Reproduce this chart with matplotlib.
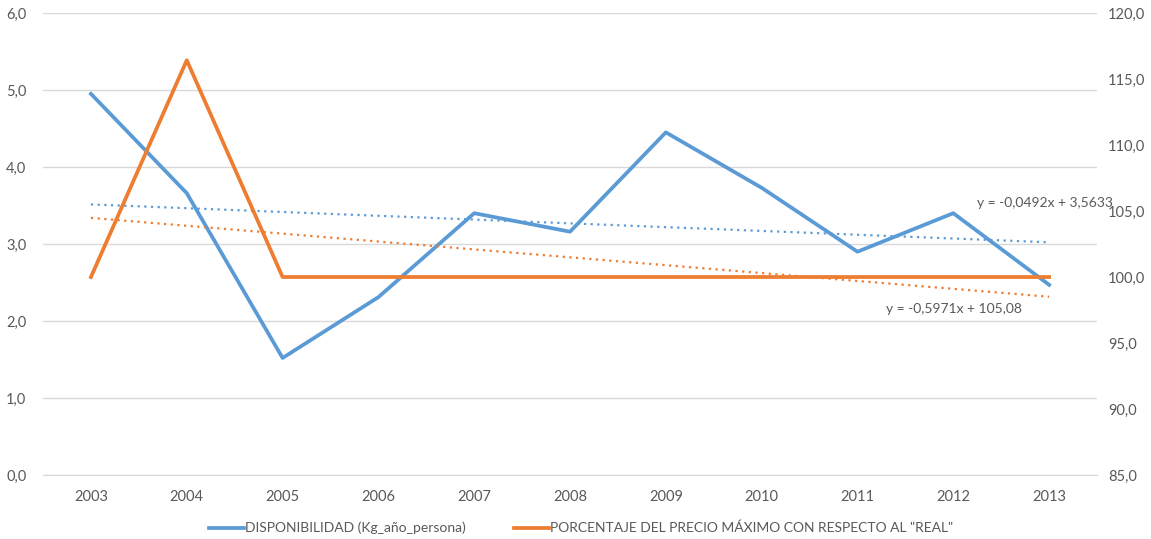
import matplotlib
matplotlib.use("Agg")
import matplotlib.pyplot as plt
from matplotlib import font_manager
import numpy as np

# data
years = ["2003", "2004", "2005", "2006", "2007", "2008", "2009", "2010", "2011", "2012", "2013"]
disponibilidad = [4.95, 3.66, 1.52, 2.31, 3.40, 3.16, 4.45, 3.73, 2.90, 3.40, 2.47]
porcentaje = [100.0, 116.42, 100.0, 100.0, 100.0, 100.0, 100.0, 100.0, 100.0, 100.0, 100.0]
label_disp = "DISPONIBILIDAD (Kg_año_persona)"
label_porc = 'PORCENTAJE DEL PRECIO MÁXIMO CON RESPECTO AL "REAL"'

names = {f.name for f in font_manager.fontManager.ttflist}
fam = [f for f in ["Liberation Sans Narrow", "Lato", "DejaVu Sans"] if f in names]
plt.rcParams["font.family"] = fam

BLUE = "#5b9bd5"
ORANGE = "#ed7d31"
GREY = "#595959"

def comma(v, nd):
    return f"{v:.{nd}f}".replace(".", ",")

fig = plt.figure(figsize=(11.51, 5.39), dpi=100)
ax = fig.add_axes([0.0374, 0.1187, 0.9157, 0.8572])
ax2 = ax.twinx()

x = np.arange(len(years))
ax.plot(x, disponibilidad, color=BLUE, lw=2.7, solid_joinstyle="round", zorder=3)
ax2.plot(x, porcentaje, color=ORANGE, lw=2.7, solid_joinstyle="round", zorder=3)

# linear trendlines (Excel style, x = 1..n)
xn = np.arange(1, len(years) + 1)
m1, b1 = np.polyfit(xn, disponibilidad, 1)
m2, b2 = np.polyfit(xn, porcentaje, 1)
ax.plot(x, m1 * xn + b1, color=BLUE, lw=1.6, ls=(0, (1, 2)), zorder=2)
ax2.plot(x, m2 * xn + b2, color=ORANGE, lw=1.6, ls=(0, (1, 2)), zorder=2)

ax.set_xlim(-0.5, len(years) - 0.5)
ax.set_ylim(0, 6)
ax2.set_ylim(85, 120)
ax.set_xticks(x)
ax.set_xticklabels(years)
ax.set_yticks(np.arange(0, 6.01, 1))
ax.set_yticklabels([comma(v, 1) for v in np.arange(0, 6.01, 1)])
ax2.set_yticks(np.arange(85, 120.1, 5))
ax2.set_yticklabels([comma(v, 1) for v in np.arange(85, 120.1, 5)])

ax.grid(axis="y", color="#d9d9d9", lw=1)
ax.set_axisbelow(True)
for a in (ax, ax2):
    for s in a.spines.values():
        s.set_visible(False)
    a.tick_params(length=0, labelsize=10.5, colors=GREY)
ax.spines["bottom"].set_visible(True)
ax.spines["bottom"].set_color("#d9d9d9")
ax.tick_params(axis="x", pad=11)
ax.tick_params(axis="y", pad=12)
ax2.tick_params(axis="y", pad=8)

ax.text(9.25, 3.53, f"y = {comma(m1, 4)}x + {comma(b1, 4)}", color=GREY, fontsize=10, va="center")
ax2.text(8.3, 97.6, f"y = {comma(m2, 4)}x + {comma(b2, 2)}", color=GREY, fontsize=10, va="center")

h1 = plt.Line2D([], [], color=BLUE, lw=2.7)
h2 = plt.Line2D([], [], color=ORANGE, lw=2.7)
fig.legend([h1, h2], [label_disp, label_porc], loc="center", bbox_to_anchor=(0.505, 0.02),
           ncol=2, frameon=False, fontsize=10, labelcolor=GREY, handlelength=2.5,
           handletextpad=0.1, columnspacing=3.5)

fig.savefig("out.png", dpi=100)
